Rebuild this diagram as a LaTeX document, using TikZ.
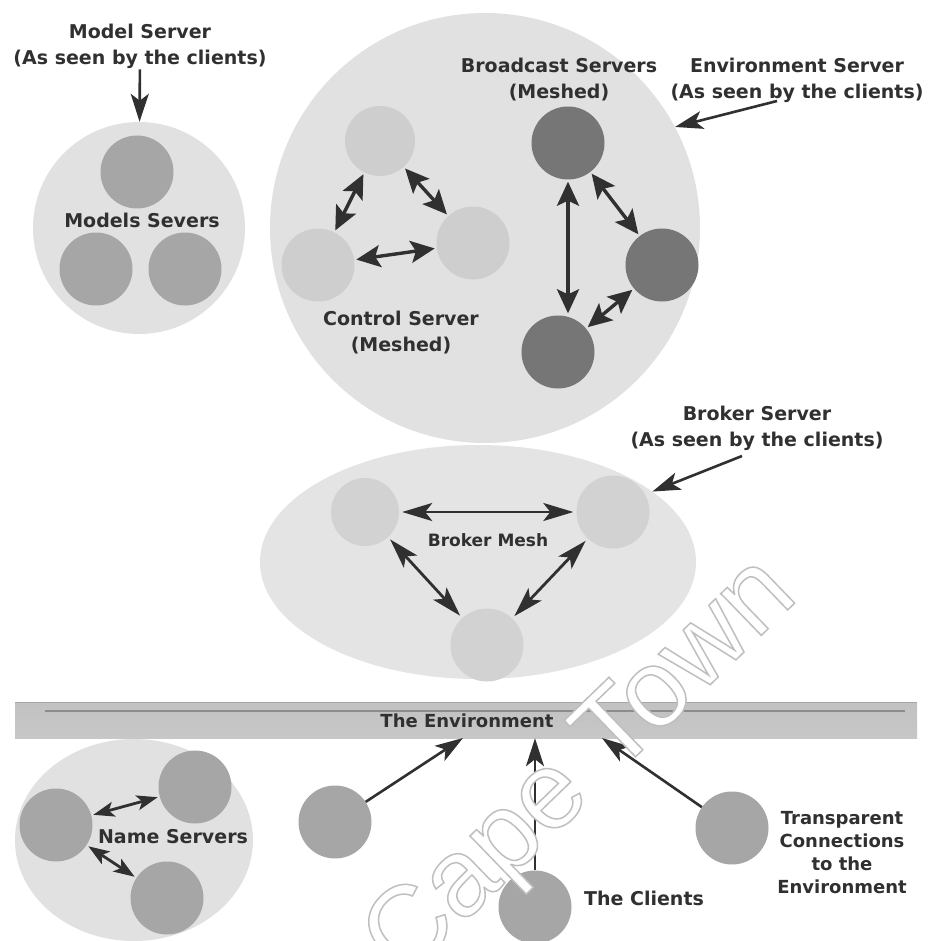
\documentclass[tikz,border=0pt]{standalone}
\usepackage{fontspec}
\setmainfont{DejaVu Sans}
\newfontfamily\wmfamily{Liberation Sans}
\usetikzlibrary{arrows.meta,shapes.geometric}

\definecolor{ink}{RGB}{48,48,48}
\definecolor{discgray}{RGB}{225,225,225}
\definecolor{midgray}{RGB}{166,166,166}
\definecolor{darksrv}{RGB}{118,118,118}
\definecolor{lightsrv}{RGB}{206,206,206}
\definecolor{brokerbg}{RGB}{228,228,228}
\definecolor{brokersrv}{RGB}{210,210,210}

\newcommand{\lblfont}{\fontsize{19}{26}\selectfont\bfseries}
\newcommand{\smallfont}{\fontsize{18}{23}\selectfont\bfseries}
% hollow lettering: white fill, light grey stroke
\newcommand{\hollow}[1]{{\color{white}\special{pdf:literal direct 2 Tr 1.5 w 0.75 G}#1\special{pdf:literal direct 0 Tr}}}

\tikzset{
  lbl/.style={font=\lblfont, text=ink, align=center, inner sep=1pt},
  disc/.style={circle, fill=discgray, draw=none, inner sep=0pt, minimum size=#1},
  oval/.style={ellipse, draw=none, inner sep=0pt},
  srv/.style={circle, draw=none, inner sep=0pt, minimum size=73pt},
  link/.style={draw=ink, line width=3.4pt,
    {Stealth[length=24pt,width=22pt,inset=5pt]}-{Stealth[length=24pt,width=22pt,inset=5pt]},
    shorten <=2pt, shorten >=2pt},
  thinlink/.style={draw=ink, line width=2.8pt,
    {Stealth[length=30pt,width=18pt,inset=7pt]}-{Stealth[length=30pt,width=18pt,inset=7pt]},
    shorten <=3pt, shorten >=3pt},
  nslink/.style={draw=ink, line width=2.8pt,
    {Stealth[length=21pt,width=15pt,inset=5pt]}-{Stealth[length=21pt,width=15pt,inset=5pt]},
    shorten <=2pt, shorten >=2pt},
  pointer/.style={draw=ink, line width=2.6pt, -{Stealth[length=28pt,width=18pt,inset=7pt]}}
}

\begin{document}
\begin{tikzpicture}[x=1pt,y=-1pt]
\useasboundingbox (0,0) rectangle (928,941);
\fill[white] (0,0) rectangle (928,941);

% ---------- model servers ----------
\node[disc=212pt] (mdisc) at (139,228) {};
\node[srv, fill=midgray] (m1) at (137,172) {};
\node[srv, fill=midgray] (m2) at (96,269) {};
\node[srv, fill=midgray] (m3) at (185,269) {};
\node[lbl] (mlbl) at (142,220) {Models Severs};
\node[lbl] (modellbl) at (140,46) {Model Server\\(As seen by the clients)};
\draw[pointer] (modellbl) -- (mdisc);

% ---------- control and broadcast servers ----------
\node[disc=430pt] (cdisc) at (485,228) {};
\node[srv, fill=lightsrv, minimum size=70pt] (c1) at (380,141) {};
\node[srv, fill=lightsrv] (c2) at (318,265) {};
\node[srv, fill=lightsrv] (c3) at (473,243) {};
\draw[link] (c1) -- (c2);
\draw[link] (c1) -- (c3);
\draw[link] (c2) -- (c3);
\node[lbl] (ctrllbl) at (401,333) {Control Server\\(Meshed)};

\node[srv, fill=darksrv] (b1) at (568,143) {};
\node[srv, fill=darksrv] (b2) at (662,265) {};
\node[srv, fill=darksrv] (b3) at (558,352) {};
\draw[link] (b1.south) -- (b1.south |- b3.north);
\draw[link] (b1) -- (b2);
\draw[link] (b3) -- (b2);
\node[lbl] (bclbl) at (559,80) {Broadcast Servers\\(Meshed)};

\node[lbl] (envlbl) at (797,80) {Environment Server\\(As seen by the clients)};
\coordinate (envtail) at (777,101);
\draw[pointer] (envtail) -- (cdisc.28);

% ---------- broker servers ----------
\node[oval, fill=brokerbg, minimum width=436pt, minimum height=234pt] (bdisc) at (478,562) {};
\node[srv, fill=brokersrv, minimum size=68pt] (k1) at (365,512) {};
\node[srv, fill=brokersrv] (k2) at (613,512) {};
\node[srv, fill=brokersrv] (k3) at (487,645) {};
\draw[thinlink] (k1) -- (k2);
\draw[thinlink] (k1) -- (k3);
\draw[thinlink] (k2) -- (k3);
\node[lbl, font=\fontsize{17}{22}\selectfont\bfseries] (bmlbl) at (488,540) {Broker Mesh};

\node[lbl] (brklbl) at (757,428) {Broker Server\\(As seen by the clients)};
\coordinate (brktail) at (742,456);
\draw[pointer] (brktail) -- (bdisc.22);

% ---------- name servers ----------
\node[oval, fill=discgray, minimum width=238pt, minimum height=202pt] (ndisc) at (134,840) {};
\node[srv, fill=midgray] (n1) at (56,825) {};
\node[srv, fill=midgray] (n2) at (195,787) {};
\node[srv, fill=midgray] (n3) at (167,898) {};
\draw[nslink] (n1) -- (n2);
\draw[nslink] (n1) -- (n3);
\node[lbl] (nslbl) at (173,837) {Name Servers};

% ---------- the environment ----------
\node[rectangle, draw=none, inner sep=0pt, minimum width=902pt, minimum height=36pt,
      top color=black!24, middle color=black!13, bottom color=black!22] (envbar) at (466,720) {};
\draw[black!45, line width=2pt] (45,711) -- (905,711);
\draw[black!35, line width=1pt] (15,702.5) -- (917,702.5);
\node[lbl, font=\smallfont] (envtxt) at (467,721) {The Environment};

% ---------- clients ----------
\node[srv, fill=midgray] (cl1) at (335,822) {};
\node[srv, fill=midgray] (cl2) at (535,907) {};
\node[srv, fill=midgray] (cl3) at (732,828) {};
\coordinate (barA) at (463,738);
\coordinate (barC) at (602,738);
\draw[pointer] (cl1) -- (barA);
\draw[pointer] (cl2.north) -- (cl2.north |- envbar.south);
\draw[pointer] (cl3) -- (barC);
\node[lbl] (clientslbl) at (644,898) {The Clients};
\node[lbl, font=\smallfont] (translbl) at (842,853) {Transparent\\Connections\\to the\\Environment};

% ---------- watermark ----------
\node[rotate=44, anchor=base east, inner sep=0pt,
      font=\wmfamily\fontsize{110}{110}\selectfont] (wm) at (800,598)
  {\hollow{of Cape Town}};
\end{tikzpicture}
\end{document}
